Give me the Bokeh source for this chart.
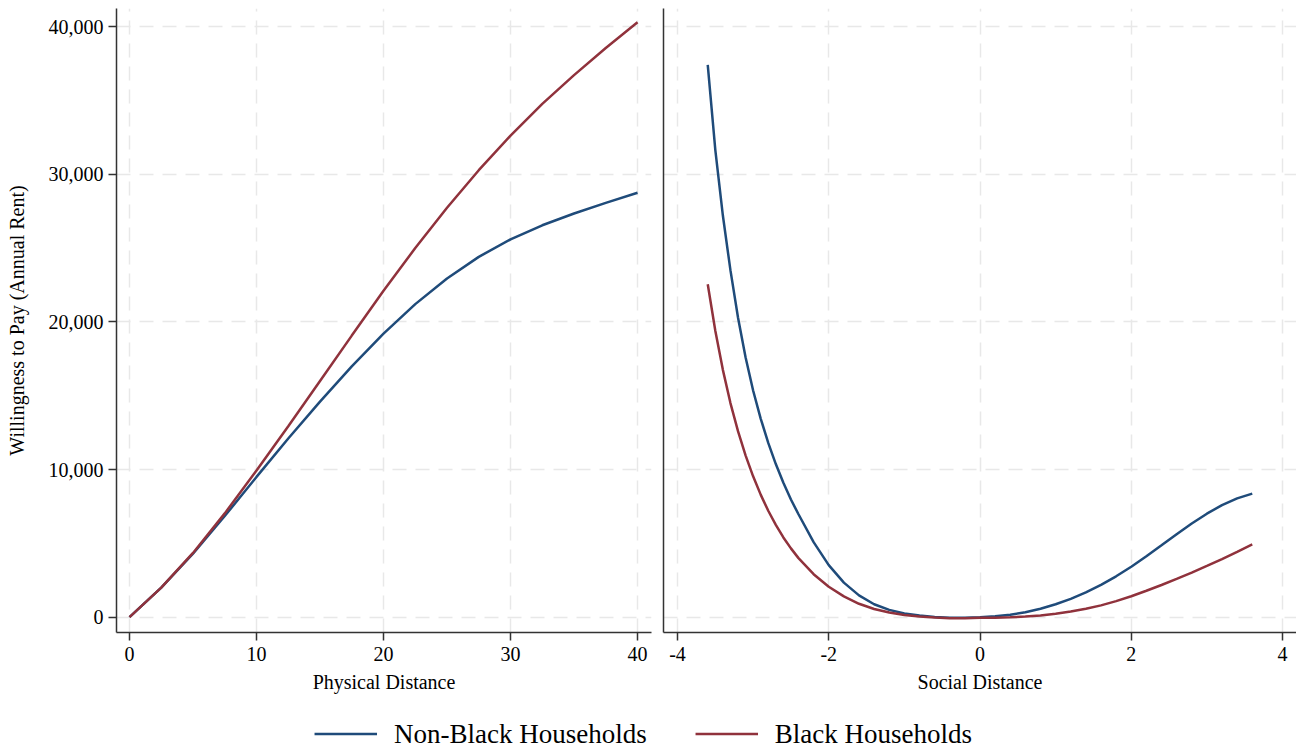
from bokeh.plotting import figure
from bokeh.layouts import column, row
from bokeh.models import Range1d, FixedTicker, NumeralTickFormatter, Legend, LegendItem
from bokeh.embed import file_html
from bokeh.resources import INLINE

# ---------------- data ----------------
phys_x = [0, 2.5, 5, 7.5, 10, 12.5, 15, 17.5, 20, 22.5, 25, 27.5, 30, 32.5, 35, 37.5, 40]
phys_nonblack = [0, 2000, 4300, 6850, 9500, 12100, 14600, 16980, 19200, 21200, 22940,
                 24400, 25590, 26540, 27340, 28060, 28740]
phys_black = [0, 2000, 4350, 7030, 9930, 12930, 15990, 19070, 22100, 25000, 27730,
              30270, 32610, 34760, 36710, 38540, 40290]

soc_x = [-3.6, -3.5, -3.4, -3.3, -3.2, -3.1, -3.0, -2.9, -2.8, -2.7, -2.6, -2.5, -2.4,
         -2.2, -2.0, -1.8, -1.6, -1.4, -1.2, -1.0, -0.8, -0.6, -0.4, -0.2, 0.0,
         0.2, 0.4, 0.6, 0.8, 1.0, 1.2, 1.4, 1.6, 1.8, 2.0, 2.2, 2.4, 2.6, 2.8, 3.0,
         3.2, 3.4, 3.6]
soc_nonblack = [37400, 31650, 27200, 23500, 20300, 17600, 15350, 13450, 11800, 10370, 9100,
                7970, 6970, 5080, 3530, 2340, 1475, 880, 495, 255, 108, 15, -40, -45, 0,
                60, 170, 340, 575, 875, 1240, 1675, 2185, 2770, 3420, 4125, 4865, 5615,
                6340, 7010, 7590, 8045, 8365]
soc_black = [22550, 19400, 16750, 14500, 12600, 10960, 9540, 8300, 7210, 6250, 5400,
             4660, 4000, 2910, 2060, 1410, 910, 555, 315, 155, 45, -25, -65, -70, -40,
             -35, -10, 40, 120, 230, 380, 570, 800, 1090, 1420, 1790, 2180, 2590, 3020,
             3470, 3940, 4430, 4930]

y_ticks = [0, 10000, 20000, 30000, 40000]
phys_ticks = [0, 10, 20, 30, 40]
soc_ticks = [-4, -2, 0, 2, 4]
series_names = ["Non-Black Households", "Black Households"]
series_colors = ["#1f4b7a", "#90323c"]

FONT = "Liberation Serif"
AXIS_COLOR = "#333333"
GRID_COLOR = "#e8e8e8"
Y_RANGE = (-1036, 41220)


def style(p):
    p.outline_line_color = None
    p.background_fill_color = "white"
    p.border_fill_color = "white"
    for ax in p.axis:
        ax.axis_line_color = AXIS_COLOR
        ax.axis_line_width = 1.5
        ax.major_tick_line_color = AXIS_COLOR
        ax.major_tick_line_width = 1.5
        ax.major_tick_out = 8
        ax.major_tick_in = 0
        ax.minor_tick_line_color = None
        ax.major_label_text_font = FONT
        ax.major_label_text_font_size = "20px"
        ax.major_label_text_color = "black"
        ax.axis_label_text_font = FONT
        ax.axis_label_text_font_size = "20px"
        ax.axis_label_text_font_style = "normal"
        ax.axis_label_text_color = "black"
    for g in p.grid:
        g.grid_line_color = GRID_COLOR
        g.grid_line_width = 1.5
        g.grid_line_dash = "14 9"


# ---------------- left panel ----------------
p1 = figure(width=657, height=708, output_backend="svg", toolbar_location=None,
            x_range=Range1d(-1.024, 41.10), y_range=Range1d(*Y_RANGE),
            min_border_left=116, min_border_right=6, min_border_top=8, min_border_bottom=76)
p1.line(phys_x, phys_nonblack, line_color=series_colors[0], line_width=2.5)
p1.line(phys_x, phys_black, line_color=series_colors[1], line_width=2.5)
p1.xaxis.ticker = FixedTicker(ticks=phys_ticks)
p1.yaxis.ticker = FixedTicker(ticks=y_ticks)
p1.yaxis.formatter = NumeralTickFormatter(format="0,0")
p1.xaxis.axis_label = "Physical Distance"
p1.yaxis.axis_label = "Willingness to Pay (Annual Rent)"
style(p1)
p1.xaxis.major_label_standoff = 6
p1.xaxis.axis_label_standoff = 7
p1.yaxis.major_label_standoff = 5
p1.yaxis.axis_label_standoff = 18

# ---------------- right panel ----------------
p2 = figure(width=639, height=708, output_backend="svg", toolbar_location=None,
            x_range=Range1d(-4.185, 4.185), y_range=Range1d(*Y_RANGE),
            min_border_left=6, min_border_right=0, min_border_top=8, min_border_bottom=76)
p2.line(soc_x, soc_nonblack, line_color=series_colors[0], line_width=2.5)
p2.line(soc_x, soc_black, line_color=series_colors[1], line_width=2.5)
p2.xaxis.ticker = FixedTicker(ticks=soc_ticks)
p2.xaxis.major_label_overrides = {t: str(t) for t in soc_ticks}
p2.yaxis.ticker = FixedTicker(ticks=[])
p2.xaxis.axis_label = "Social Distance"
style(p2)
p2.ygrid[0].ticker = FixedTicker(ticks=y_ticks)
p2.xaxis.major_label_standoff = 6
p2.xaxis.axis_label_standoff = 7
p2.yaxis.major_tick_out = 0
p2.yaxis.major_label_standoff = 0

# ---------------- legend strip ----------------
# the series are drawn here far outside the visible range; only their legend glyphs show
pl = figure(width=1296, height=43, output_backend="svg", toolbar_location=None,
            x_range=Range1d(0, 1), y_range=Range1d(-1e7, -1e7 + 1),
            min_border=0, min_border_right=10, min_border_top=8)
pl.axis.visible = False
pl.grid.visible = False
pl.outline_line_color = None
items = []
for name, col, ys in zip(series_names, series_colors, [phys_nonblack, phys_black]):
    r = pl.line(phys_x, ys, line_color=col, line_width=2.5)
    items.append(LegendItem(label=name, renderers=[r]))
leg = Legend(items=items, orientation="horizontal", location="center",
             label_text_font=FONT, label_text_font_size="27px", label_text_color="black",
             glyph_width=63, glyph_height=20, label_standoff=17, spacing=48,
             padding=0, margin=0, border_line_color=None, background_fill_alpha=0)
pl.add_layout(leg)

layout = column(row(p1, p2, spacing=0), pl, spacing=0)
open("out.html", "w").write(file_html(layout, INLINE))
